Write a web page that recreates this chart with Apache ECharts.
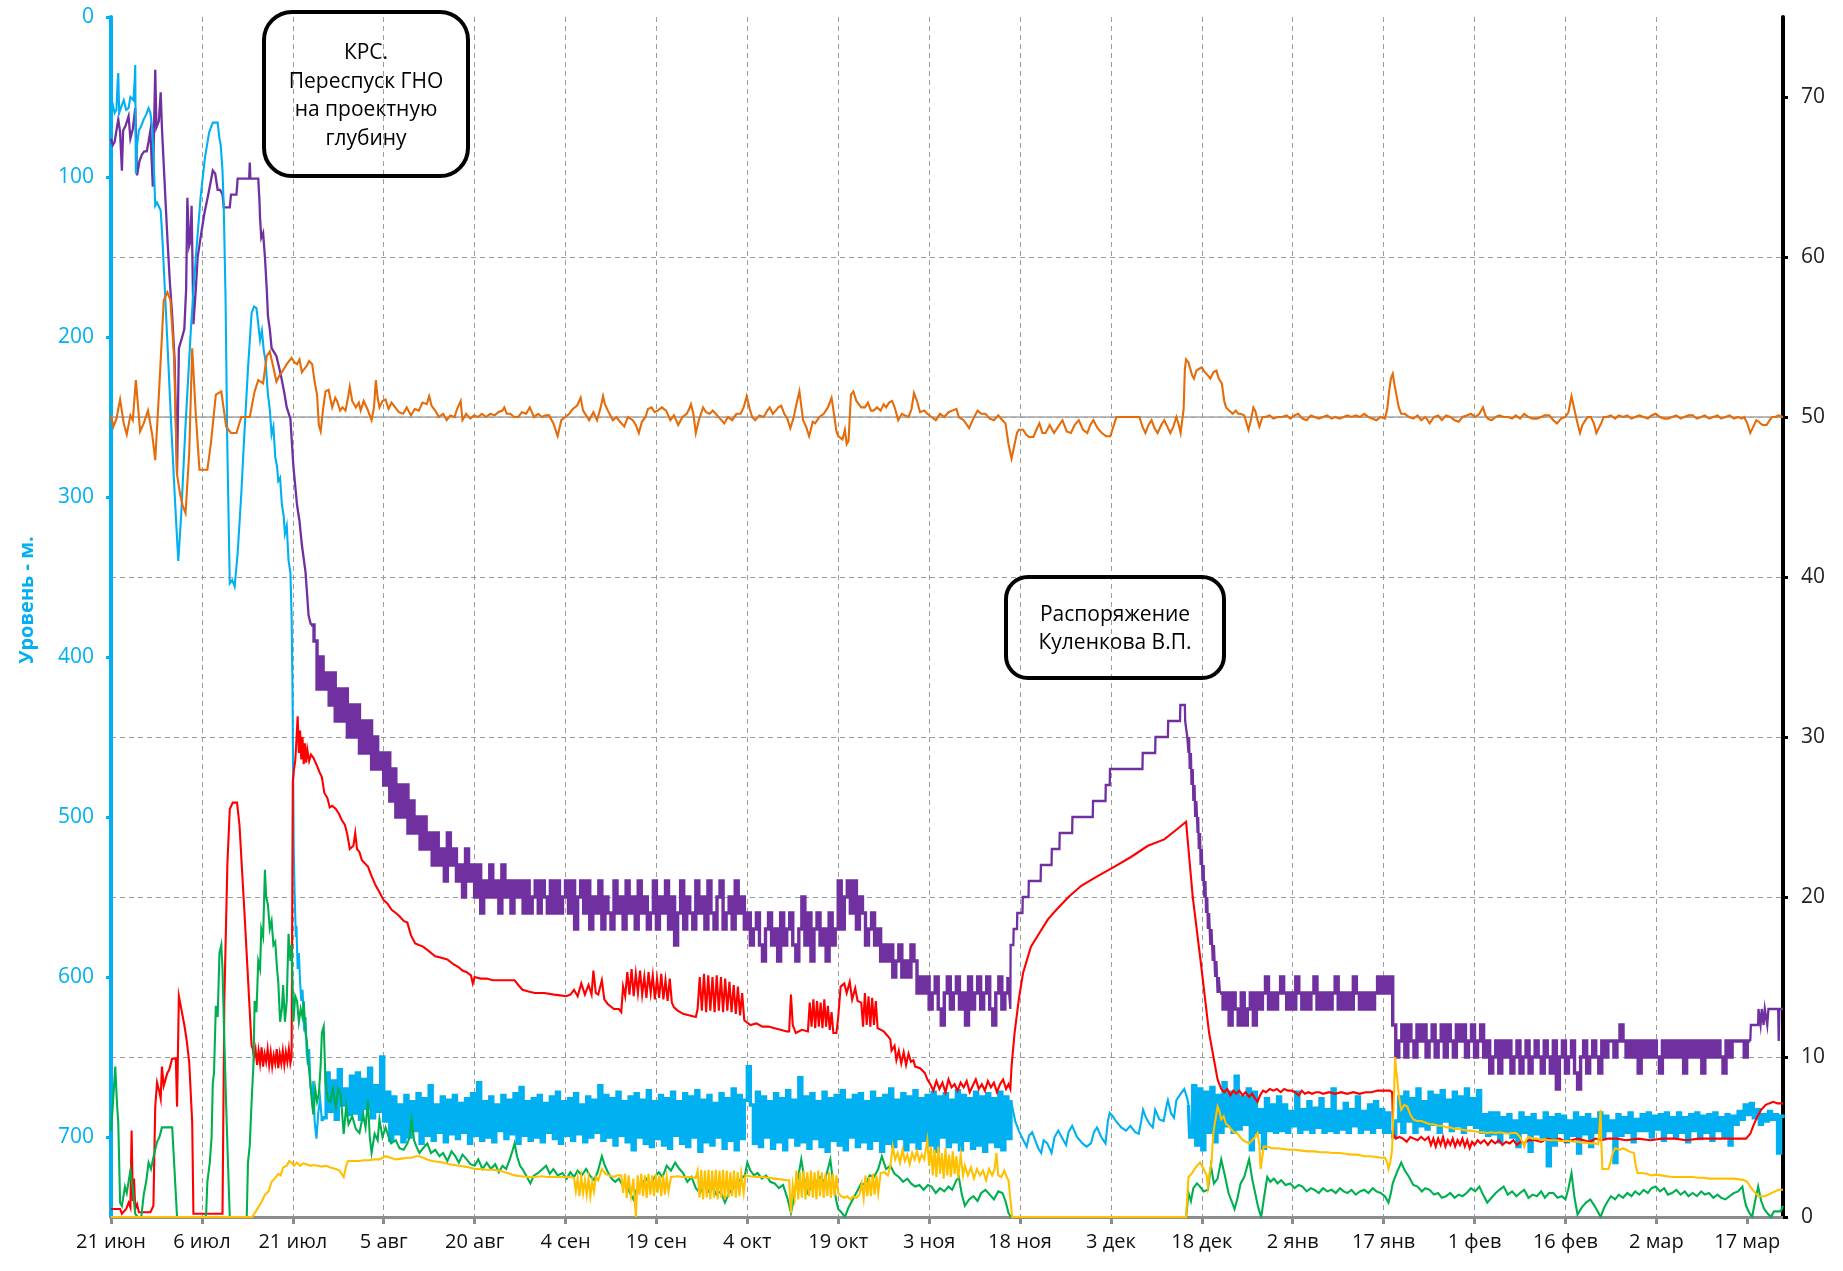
<!DOCTYPE html>
<html lang="ru">
<head>
<meta charset="utf-8">
<title>Уровень и параметры работы скважины</title>
<script src="https://cdn.jsdelivr.net/npm/echarts@6/dist/echarts.min.js"></script>
<style>
html,body{margin:0;padding:0;background:#fff;}
#chart{width:1843px;height:1271px;}
</style>
</head>
<body>
<div id="chart"></div>
<script>
// X is counted in days from 21 June; a date label every 15 days.
const dateLabels = ['21 июн','6 июл','21 июл','5 авг','20 авг','4 сен','19 сен','4 окт','19 окт','3 ноя',
  '18 ноя','3 дек','18 дек','2 янв','17 янв','1 фев','16 фев','2 мар','17 мар'];
const tickStep = 15;
const dayMax = 275.9;
const setpointHz = 50;

// Dynamic level, m (left axis, inverted). Flat lists are day,value pairs;
// runs are values sampled every `step` days starting at `from`.
const levelPts = [
  0,62, 0.3,55, 0.6,60, 0.9,58, 1.1,40, 1.2,35, 1.35,60, 1.7,56, 2.1,52, 2.5,58, 2.9,57, 3.2,50, 3.4,49, 3.7,52,
  3.9,40, 4.0,30, 4.1,98, 4.3,80, 4.6,71, 5.0,68, 5.4,64, 5.8,61, 6.2,57, 6.5,60, 6.8,69, 7.0,85, 7.3,118, 7.6,116,
  8.2,121, 8.5,140, 9.2,195, 10.0,260, 10.6,305, 11.1,340, 11.6,310, 12.3,255, 13.2,194, 14.0,150, 14.8,112, 15.5,88,
  16.2,72, 16.8,66, 17.6,66, 17.9,76, 18.1,80, 18.4,96, 18.6,118, 18.9,175, 19.2,270, 19.6,354, 20.0,352, 20.4,356,
  20.7,355, 20.9,335, 21.5,298, 22.0,261, 22.6,220, 23.2,185, 23.6,181, 24.0,182, 24.3,192, 24.6,202, 24.9,196,
  25.2,208, 25.5,215, 25.9,236, 26.2,245, 26.5,261, 26.8,256, 27.1,275, 27.4,281, 27.6,290, 27.9,288, 28.2,305,
  28.5,312, 28.7,323, 29.0,318, 29.3,340, 29.6,347, 29.8,374, 29.95,420, 30.05,468, 30.15,520, 30.3,548, 30.5,575,
  30.6,568, 30.8,595, 31.0,585, 31.2,603, 31.4,615, 31.6,608, 31.9,634, 32.1,625, 32.3,648, 32.5,655, 32.7,645,
  32.9,668, 33.2,676, 33.4,665, 33.6,690, 33.9,701, 34.2,685, 34.5,676, 34.8,690
];
const levelRunA = {from: 35, step: 0.5, v: [
  688,660,684,665,689,658,680,670,686,662, 685,660,689,664,682,657,688,668,684,650,
  690,672,702,675,698,680,703,674,700,678, 696,673,704,676,699,668,702,680,697,675,
  703,677,698,674,701,679,697,676,704,673, 699,666,702,678,700,675,703,680,696,674,
  701,677,698,673,704,669,699,678,702,676, 700,674,703,679,697,675,701,672,704,678,
  699,676,702,673,698,680,703,675,700,677, 697,668,702,674,700,676,705,672,699,678,
  703,675,708,673,700,677,704,671,706,678, 701,674,705,676,707,672,699,678,704,673,
  706,675,700,671,709,677,703,674,705,679, 700,673,707,676,702,670,708,674,701,677,
  656,680,704,672,706,675,700,678,707,673, 703,676,708,671,700,677,705,663,703,675,
  707,673,701,678,706,672,709,676,702,674, 705,671,708,677,700,674,706,673,703,678,
  707,672,702,676,709,674,704,670,706,677, 701,673,708,675,703,671,707,676,702,674,
  705,672,709,675,700,673,706,677,703,671, 708,674,702,676,707,672,705,675,709,673,
  703,676,706,672,708,675,701,677
]};
const levelSaw = [
  148.7,677, 149.2,690, 149.8,696, 150.4,701, 151.1,706, 151.5,699, 152.0,697, 152.5,702, 153.0,707, 153.5,710,
  153.9,702, 154.5,704, 155.2,710, 155.7,700, 156.3,696, 157.0,701, 157.6,705, 158.0,697, 158.6,693, 159.4,700,
  160.3,704, 161.0,706, 161.7,704, 162.2,697, 162.7,694, 163.4,700, 164.1,704, 164.5,690, 164.8,685, 165.3,687,
  165.8,690, 166.7,694, 167.5,696, 168.2,693, 169.0,697, 169.6,698, 170.0,690, 170.3,683, 170.8,688, 171.4,692,
  171.9,694, 172.3,683, 173.0,689, 173.7,690, 174.2,680, 174.4,677, 174.9,685, 175.4,688, 175.8,677, 176.5,673,
  177.1,670, 177.6,676, 177.8,680
];
const levelRunB = {from: 178, step: 0.5, v: [
  700,668,705,670,708,672,697,669,703,674, 697,666,693,672,697,662,695,675,692,670,
  708,672,697,683,707,676,696,680,697,675, 696,680,697,684,693,672,697,683,695,678,
  697,682,694,676,697,683,696,670,697,684, 695,679,697,683,693,675,697,684,695,680,
  697,678,694,683,697,685,697,700,690,675, 697,672,690,676,697,670,693,678,695,672,
  692,674,697,671,690,677,696,672,693,675, 697,670,692,676,694,671,697,686,699,685,
  698,685,703,688,697,686,700,690,706,685, 697,688,709,686,698,690,700,685,718,688,
  705,686,697,687,703,690,699,685,710,688, 698,686,706,689,697,685,701,687,696,690,
  716,686,699,688,697,685,703,689,696,686, 696,685,700,687,695,686,702,685,697,688,
  700,685,697,688,703,686,696,685,701,687, 697,686,702,685,696,688,700,686,705,687,
  692,684,689,680,686,679,688,683,692,686, 690,684,689,686,710,687
]};
const levelTail = [275.9,686];

// Purple trace (right axis)
const purplePts = [
  0,67.4, 0.3,67.0, 0.6,67.2, 0.9,67.1, 1.2,68.6, 1.5,67.8, 1.8,65.4, 2.0,67.9, 2.4,68.2, 2.9,68.8, 3.2,67.4,
  3.6,68.0, 4.0,69.3, 4.3,65.1, 4.7,66.0, 5.1,66.4, 5.5,66.6, 5.9,66.6, 6.2,67.2, 6.5,67.9, 6.9,64.4, 7.1,68.0,
  7.3,71.7, 7.5,68.1, 7.9,68.5, 8.2,70.3, 8.4,68.1, 8.8,65.0, 9.3,61.2, 9.7,58.5, 10.1,56.3, 10.5,53.5, 10.9,46.5,
  11.2,54.3, 11.6,54.8, 12.1,55.5, 12.4,58.0, 12.6,63.7, 12.9,60.7, 13.1,61.0, 13.3,63.2, 13.6,55.8, 14.0,58.0,
  14.3,60.0, 14.9,61.5, 15.4,62.7, 16.1,64.0, 16.8,65.4, 17.2,65.2, 17.6,64.2, 18.0,64.2, 18.4,63.9, 18.6,63.1,
  19.6,63.1, 19.8,63.9, 20.7,63.9, 20.9,64.9, 22.8,64.9, 22.9,65.9, 23.0,64.9, 24.3,64.9, 24.5,63.5, 24.6,62.4,
  24.8,61.2, 25.1,61.5, 25.4,60.0, 25.7,58.0, 25.9,56.3, 26.2,55.5, 26.5,54.3, 27.3,53.8, 27.8,53.0, 28.2,52.3,
  28.6,51.5, 29.0,50.6, 29.6,49.9, 30.1,46.9, 30.7,44.5, 31.1,43.5, 31.5,42.0, 32.1,40.3, 32.6,37.6, 33.0,37.0
];
const purpleRunA = {from: 33.5, step: 0.5, v: [
  36,33,35,33,34,32,34,31,33,31, 33,30,32,30,32,29,31,29,31,28, 30,28,29,27,29,26,28,25,27,25,
  27,24,26,24,25,23,25,23,24,22, 24,22,23,21,24,22,23,21,22,20, 23,21,22,20,22,19,21,20,22,20,
  21,19,22,20,21,19,21,20,21,19, 21,19,20,21,19,21,20,19,21,19, 21,19,20,21,19,21,18,20,21,19,
  21,18,20,19,21,18,20,19,18,21, 19,20,18,21,19,20,18,21,19,20, 18,19,21,18,20,19,21,18,20,17,
  19,21,18,20,19,18,21,19,20,18, 21,19,18,20,21,18,19,20,18,21, 19,20,18,19,17,18,19,17,16,18,
  19,17,18,16,19,17,18,19,17,16, 18,20,17,19,16,18,19,17,18,16, 19,17,18,21,18,20,21,19,21,18,
  20,19,17,18,19,17,18,16,17,16, 17,15,16,17,15,16,15,17,16,14, 15,14,15,13,14,15,13,12,14,15,
  13,14,15,13,14,12,15,13,14,15, 13,14,15,13,12,14,15,13,14,15
]};
const purpleStairs = [
  148.4,13, 148.45,17, 148.9,17, 148.95,18, 149.5,18, 149.55,19, 150.4,19, 150.45,20, 151.4,20, 151.45,21,
  153.4,21, 153.45,22, 155.2,22, 155.25,23, 156.5,23, 156.55,24, 158.6,24, 158.65,25, 162.0,25, 162.05,26,
  164.1,26, 164.15,27, 164.8,27, 164.85,28, 170.2,28, 170.25,29, 172.3,29, 172.35,30, 174.4,30, 174.45,31,
  176.4,31, 176.45,32, 177.2,32, 177.25,31, 177.5,31, 177.6,30, 177.8,29, 177.9,30, 178.0,28, 178.2,29,
  178.3,27, 178.5,28, 178.6,26, 178.8,27, 178.9,25, 179.1,26, 179.3,24, 179.4,25, 179.5,23, 179.7,24,
  179.8,22, 180.0,23, 180.1,21, 180.3,22, 180.4,20, 180.6,21, 180.7,19, 180.9,20, 181.0,18, 181.2,19,
  181.4,17, 181.6,18, 181.8,16, 182.0,17, 182.2,15, 182.4,16, 182.6,14, 182.8,15, 183.0,14
];
const purpleRunB = {from: 183.5, step: 0.5, v: [
  13,14,12,14,13,12,14,12,13,14, 12,14,13,14,15,13,14,13,14,15, 14,13,14,13,15,14,13,14,13,14,
  15,13,14,13,14,13,14,15,13,14, 13,14,13,15,14,13,14,13,14,13, 14,15,14,15,14,15,
  12,10,11,12,10,12,11,10,12,11, 12,10,11,12,10,11,12,10,12,11, 10,12,11,12,10,11,12,10,11,12,
  10,11,9,10,11,9,11,10,11,9, 10,11,9,10,11,9,10,11,10,9, 11,10,9,11,8,10,11,9,10,11,
  9,8,10,11,9,10,11,10,9,11, 10,11,11,10,11,12,11,10,11,10, 11,9,11,10,11,10,11,10,9,11,
  10,11,10,11,10,11,9,11,10,11, 10,11,9,11,10,11,10,11,10,9, 11,10,11,11,11,11,10,11,11
]};
const purpleTail = [
  270.6,12, 271.8,12, 271.85,13, 272.2,12, 272.4,13, 272.7,12, 272.9,13, 273.3,12, 273.5,13, 275.1,13,
  275.2,11, 275.3,13, 275.9,13
];

// Red trace (right axis)
const redPts = [
  0,0.5, 1.5,0.5, 1.8,0.2, 2.5,0.5, 2.9,0.9, 3.2,0.6, 3.4,5.4, 3.6,1.0, 3.8,2.4, 4.0,0.5, 4.3,0.8, 4.6,0.3,
  5.5,0.3, 6.5,0.3, 7.0,0.7, 7.3,6.9, 7.6,8.4, 8.0,7.8, 8.2,7.4, 8.4,9.4, 8.7,8.2, 9.0,8.6, 9.3,9.0, 9.6,9.2,
  10.1,9.9, 10.7,9.9, 10.9,6.9, 11.2,13.8, 11.6,13.0, 12.1,12.0, 12.5,11.0, 12.9,9.7, 13.4,5.9, 13.6,0.2,
  18.4,0.2, 18.7,13.5, 19.2,22.0, 19.6,25.5, 20.1,25.9, 20.8,25.9, 21.2,24.5, 22.1,18.5, 23.2,10.7, 23.4,10.5,
  23.6,10.0, 23.85,10.5, 24.1,9.5, 24.35,10.4, 24.6,9.6, 24.85,10.6, 25.1,9.4, 25.35,10.2, 25.6,9.7, 25.85,10.5,
  26.1,9.5, 26.35,10.3, 26.6,9.4, 26.85,10.1, 27.1,9.6, 27.35,10.5, 27.6,9.3, 27.85,10.2, 28.1,9.6, 28.35,10.4,
  28.6,9.5, 28.85,10.3, 29.1,9.7, 29.35,10.5, 29.6,9.6, 29.8,10.0,
  30.0,27.2, 30.2,28.0, 30.4,28.5, 30.6,29.8, 30.8,31.3, 31.0,29.0, 31.2,30.4, 31.4,28.6, 31.6,30.0, 31.8,28.3,
  32.0,29.6, 32.2,28.4, 32.4,29.2, 32.7,28.5, 33.0,28.9, 33.4,28.7, 34.0,28.2, 34.4,27.8, 34.8,27.5, 35.2,26.5,
  35.7,26.2, 36.1,25.6, 36.5,25.7, 37.1,25.5, 37.6,25.2, 38.1,24.8, 38.6,24.5, 39.0,23.9, 39.4,23.0, 40.0,23.2,
  40.3,24.0, 40.6,23.0, 41.0,22.8, 41.4,22.3, 42.4,21.9, 43.0,21.3, 43.7,20.7, 44.3,20.3, 45.0,19.8, 45.6,19.6,
  46.3,19.2, 47.0,19.0, 47.6,18.8, 48.3,18.5, 48.9,18.4, 49.5,17.6, 50.2,17.1, 50.8,17.0, 51.5,16.9, 52.5,16.6,
  53.5,16.3, 54.5,16.2, 55.5,16.1, 56.5,15.8, 57.4,15.6, 58.0,15.4, 58.7,15.3, 59.4,15.1, 59.7,14.6, 60.0,15.0,
  61.0,14.9, 62.0,14.9, 63.0,14.8, 64.0,14.8, 65.3,14.8, 66.6,14.8, 67.2,14.5, 67.9,14.2, 68.9,14.1, 69.9,14.0,
  71.5,14.0, 73.1,13.9, 74.1,13.85, 75.1,13.8, 75.8,13.9, 76.4,14.2, 77.0,13.8, 77.6,14.6, 78.2,13.9, 78.8,14.5,
  79.3,13.9, 79.6,15.4, 80.0,14.0, 80.4,13.9, 81.0,14.8, 81.4,13.6, 82.0,13.3, 83.0,13.0, 83.8,13.0, 84.2,12.8,
  84.5,14.4, 84.85,13.8, 85.2,15.3, 85.55,13.9, 85.9,15.5, 86.25,13.8, 86.6,15.2, 86.95,14.0, 87.3,15.4,
  87.65,13.9, 88.0,15.0, 88.35,13.7, 88.7,15.3, 89.05,14.0, 89.4,15.1, 89.75,13.6, 90.1,14.9, 90.45,13.7,
  90.8,15.2, 91.15,13.6, 91.5,14.8, 91.85,13.5, 92.2,14.9, 92.55,13.4, 92.9,13.1, 93.5,12.9, 94.4,12.7,
  95.5,12.6, 96.5,12.5, 96.8,13.0, 97.15,15.0, 97.5,12.9, 97.85,15.2, 98.2,12.8, 98.55,15.1, 98.9,12.9,
  99.25,15.0, 99.6,12.8, 99.95,15.1, 100.3,12.9, 100.65,15.0, 101.0,12.8, 101.35,14.9, 101.7,12.9, 102.05,14.7,
  102.4,12.8, 102.75,14.5, 103.1,12.7, 103.45,14.4, 103.8,12.6, 104.15,14.0, 104.5,12.3, 104.8,12.2, 105.5,12.0,
  106.5,12.1, 107.5,11.9, 108.5,11.9, 109.5,11.8, 110.5,11.7, 111.5,11.6, 111.9,11.6, 112.2,13.9, 112.5,12.0,
  113.0,11.5, 114.0,11.7, 115.0,11.6, 115.3,13.4, 115.6,11.9, 115.9,13.6, 116.2,11.8, 116.5,13.5, 116.8,11.9,
  117.1,13.4, 117.4,11.8, 117.7,13.6, 118.0,11.9, 118.3,13.2, 118.6,11.7, 118.9,12.8, 119.2,11.5, 119.7,11.5,
  120.0,12.5, 120.4,14.4, 121.0,14.6, 121.4,14.0, 121.9,14.7, 122.3,13.6, 122.8,14.3, 123.2,13.5, 123.8,13.4,
  124.1,11.9, 124.4,14.0, 124.7,12.0, 125.0,13.8, 125.3,11.9, 125.6,13.7, 125.9,12.0, 126.2,13.5, 126.5,11.8,
  127.5,11.6, 128.2,11.3, 128.6,11.1, 128.8,10.4, 129.3,10.7, 129.6,9.8, 130.0,10.4, 130.4,9.6, 130.8,10.3,
  131.2,9.5, 131.6,10.2, 132.0,9.7, 132.4,9.8, 132.7,9.4, 133.5,9.3, 134.3,9.0, 134.7,8.6, 135.2,8.3, 135.7,7.9,
  136.2,8.5, 136.7,8.0, 137.2,8.4, 137.7,7.8, 138.2,8.6, 138.7,8.1, 139.2,8.3, 139.7,7.9, 140.2,8.4, 140.7,8.1,
  141.2,8.5, 141.7,7.8, 142.2,8.2, 142.7,8.6, 143.2,8.0, 143.7,8.3, 144.2,7.9, 144.7,8.5, 145.2,8.1, 145.7,8.4,
  146.2,7.8, 146.7,8.3, 147.2,8.6, 147.7,8.0, 148.1,8.3, 148.4,8.0, 148.6,9.4, 149.1,11.5, 149.8,13.6,
  150.5,15.25, 151.8,16.9, 153.2,17.75, 154.6,18.6, 156.0,19.2, 158.0,20.0, 160.1,20.7, 162.8,21.3, 165.6,21.9,
  168.3,22.5, 171.1,23.2, 173.8,23.6, 175.8,24.2, 177.4,24.7, 178.5,20.0, 179.8,16.0, 181.2,11.5, 182.6,8.6,
  183.2,8.0, 183.7,7.8, 184.2,8.0, 184.7,7.6, 185.2,7.9, 185.7,7.7, 186.2,7.9, 186.7,7.6, 187.2,7.8, 187.8,7.5,
  188.3,7.7, 188.8,7.4, 189.2,7.2, 189.6,7.6, 190.1,7.9, 190.6,7.8, 191.2,8.0, 191.8,7.9, 192.4,8.0, 193.0,7.8,
  193.6,8.0, 194.2,7.9, 194.8,7.9, 195.4,7.8, 196.0,7.6, 196.5,7.9, 197.0,7.7, 197.6,7.8, 198.2,7.7, 198.8,7.8,
  199.4,7.8, 200.0,7.7, 201,7.8, 202,7.7, 203,7.8, 204,7.7, 205,7.8, 206,7.7, 207,7.8, 208,7.8, 209,7.9,
  210,7.9, 211,7.9, 211.4,7.8, 211.6,5.2, 212,4.9, 212.6,5.0, 213.2,4.9, 213.8,4.7, 214.4,5.0, 215,4.9,
  215.6,4.8, 216.2,5.0, 216.8,4.8, 217.4,5.0, 217.8,4.5, 218.2,4.9, 218.6,4.4, 219.0,4.9, 219.4,4.5, 219.8,5.0,
  220.2,4.4, 220.6,4.8, 221.0,4.5, 221.4,4.9, 221.8,4.4, 222.2,4.8, 222.6,4.5, 223,4.9, 223.4,4.4, 223.8,4.8,
  224.2,4.3, 224.6,4.7, 225,4.5, 225.5,4.8, 226,4.6, 226.6,4.8, 227.2,4.5, 227.8,4.8, 228.4,4.6, 229,4.8,
  229.6,4.5, 230.2,4.7, 230.8,4.6, 231.4,4.8, 232,4.5, 232.6,4.7, 233.2,4.6, 233.9,4.8, 235,4.8, 236,4.7,
  237,4.9, 238,4.8, 239,4.9, 240,4.7, 241,4.8, 242,4.9, 243,4.8, 244,4.7, 245,4.9, 246,4.8, 247,4.9,
  248.5,4.9, 250,4.8, 252,4.9, 254,4.8, 256,4.9, 258,4.9, 260,4.8, 262,4.9, 264,4.9, 266,4.9, 268,4.9,
  269.8,4.9, 270.5,5.2, 271.0,5.7, 271.7,6.3, 272.3,6.7, 273.0,7.0, 273.6,7.1, 274.3,7.2, 275.0,7.1, 275.9,7.1
];

// Green trace (right axis)
const greenPts = [
  0,5.4, 0.2,6.4, 0.7,9.4, 1.0,7.0, 1.2,5.9, 1.5,0.9, 1.8,0.7, 2.3,1.9, 2.6,1.5, 3.2,2.9, 3.6,1.7, 4.0,0.2,
  4.4,0, 5.0,0, 5.4,1.4, 5.8,2.2, 6.2,3.4, 6.6,3.0, 7.1,3.9, 7.6,4.7, 8.0,5.0, 8.4,5.6, 10.1,5.6, 10.9,0,
  15.6,0, 15.7,0.2, 15.9,2.2, 16.3,3.4, 16.6,5.0, 16.8,8.4, 17.0,9.0, 17.3,13.2, 17.6,12.5, 17.9,16.5, 18.2,17.0,
  18.4,15.5, 18.7,11.0, 19.0,7.0, 19.3,3.4, 19.6,0, 22.4,0, 22.6,3.4, 22.9,4.5, 23.2,7.2, 23.5,9.5, 23.7,13.5,
  24.0,12.8, 24.3,16.0, 24.6,15.5, 24.8,18.0, 25.1,17.5, 25.4,21.7, 25.6,20.0, 25.9,19.5, 26.2,18.0, 26.5,18.5,
  26.8,17.0, 27.1,17.2, 27.4,15.5, 27.6,14.7, 27.9,12.2, 28.2,13.0, 28.4,14.5, 28.7,12.2, 29.0,13.5, 29.3,17.7,
  29.6,16.0, 29.8,17.0, 30.1,12.2, 30.4,13.8, 30.7,13.5, 31.0,12.2, 31.3,13.0, 31.6,12.5, 31.8,13.5, 32.1,11.5,
  32.3,11.0, 32.6,9.5, 32.9,8.4, 33.2,7.0, 33.4,6.4, 33.7,8.0, 34.0,7.2, 34.3,7.7, 34.6,9.5, 34.8,11.5, 35.1,11.9,
  35.4,8.4, 35.8,7.3, 36.2,7.2, 36.6,8.0, 37.1,6.9, 37.5,8.0, 37.9,7.7, 38.4,5.2, 38.8,6.9, 39.2,5.8, 39.8,6.3,
  40.4,5.5, 41.0,5.25, 41.6,6.4, 42.0,5.6, 42.4,7.3, 42.7,5.0, 43.0,4.0, 43.5,5.2, 44.0,4.8, 44.3,6.1, 44.8,5.0,
  45.3,5.6, 45.6,5.25, 46.2,4.6, 47.0,4.8, 47.6,4.3, 48.3,4.2, 48.9,4.6, 49.3,5.0, 49.6,6.1, 50.0,4.8, 50.4,4.4,
  50.9,4.0, 51.5,4.3, 52.2,4.6, 52.8,4.0, 53.5,4.2, 54.2,3.8, 54.8,4.0, 55.5,3.5, 56.2,4.1, 56.8,3.8, 57.4,3.4,
  58.0,3.9, 58.7,3.6, 59.3,3.3, 60.0,3.2, 60.6,3.6, 61.3,3.0, 62.0,3.4, 62.7,3.0, 63.4,3.3, 64.0,2.8, 64.6,3.2,
  65.2,3.0, 65.8,3.6, 66.3,4.2, 66.6,4.6, 67.0,3.8, 67.5,3.2, 67.9,3.0, 68.5,2.6, 69.2,2.1, 69.8,2.6, 70.5,2.75,
  71.2,3.0, 71.8,3.2, 72.4,2.7, 73.0,3.0, 73.7,2.6, 74.5,2.75, 75.2,2.4, 75.8,2.8, 76.4,2.5, 77.0,2.9, 77.7,2.6,
  78.4,3.0, 79.0,2.6, 79.7,2.3, 80.3,2.8, 81.0,3.8, 81.5,3.2, 82.0,2.8, 82.6,2.4, 83.2,2.2, 83.8,2.4, 84.4,2.0,
  84.9,2.1, 85.5,1.6, 86.2,1.1, 86.8,1.8, 87.6,2.1, 88.3,2.4, 89.0,2.0, 89.7,2.5, 90.4,2.8, 91.0,2.5, 91.7,3.2,
  92.4,2.9, 93.1,3.4, 93.8,3.0, 94.4,2.75, 95.1,2.2, 95.8,2.5, 96.5,1.8, 97.2,1.5, 97.9,2.0, 98.6,1.6, 99.2,1.9,
  99.9,1.4, 100.6,1.6, 101.3,0.9, 102.0,1.5, 102.6,1.8, 103.3,2.1, 104.0,2.4, 104.6,2.6, 105.0,3.4, 105.5,2.9,
  106.1,2.6, 106.7,2.75, 107.4,2.4, 108.1,2.6, 108.8,2.2, 109.5,2.1, 110.2,1.8, 110.9,2.0, 111.6,1.2, 112.2,0.25,
  112.6,1.0, 112.9,1.7, 113.4,2.5, 113.9,3.6, 114.4,2.4, 114.9,1.5, 115.6,1.9, 116.3,2.1, 117.0,2.5, 117.7,2.2,
  118.3,3.0, 118.7,3.6, 119.2,2.0, 119.7,1.0, 120.0,0.5, 120.5,0.3, 121.1,0, 121.7,0.6, 122.4,1.1, 123.1,1.6,
  123.8,2.1, 124.5,2.0, 125.2,2.6, 125.9,2.5, 126.6,3.0, 127.2,3.8, 127.9,3.0, 128.6,3.2, 129.3,2.7, 130.0,2.5,
  130.7,2.2, 131.4,2.4, 132.0,2.1, 132.7,1.9, 133.4,2.0, 134.1,1.7, 134.8,2.0, 135.4,1.9, 136.1,1.5, 136.8,1.8,
  137.5,1.6, 138.2,1.9, 138.8,1.7, 139.5,2.3, 139.9,2.5, 140.4,1.4, 140.9,0.7, 141.6,1.1, 142.3,1.3, 143.0,1.0,
  143.6,1.5, 144.3,1.7, 145.0,1.4, 145.7,1.1, 146.4,1.6, 147.1,1.5, 147.6,1.0, 148.1,0.25, 148.5,0, 177.4,0,
  177.8,1.5, 178.2,1.0, 178.6,1.8, 179.2,2.1, 179.7,1.9, 180.3,1.6, 181.0,1.7, 181.5,3.2, 182.0,2.1, 182.6,2.4,
  183.2,3.6, 183.4,3.5, 183.8,2.6, 184.4,1.5, 184.9,1.0, 185.4,0.5, 185.9,1.2, 186.4,2.1, 187.0,2.5, 187.5,3.2,
  187.8,3.6, 188.3,2.4, 188.8,1.5, 189.3,0.6, 189.8,0, 190.3,1.3, 190.8,2.5, 191.3,2.2, 191.9,2.4, 192.5,2.1,
  193.1,2.3, 193.8,2.0, 194.6,2.1, 195.3,1.8, 196.0,2.0, 196.6,1.9, 197.3,1.6, 198.0,1.8, 198.6,1.7, 199.3,1.5,
  200.0,1.8, 200.7,1.6, 201.4,1.7, 202.1,1.5, 202.8,1.8, 203.4,1.6, 204.0,1.5, 204.7,1.7, 205.4,1.4, 206.1,1.6,
  206.8,1.7, 207.5,1.5, 208.2,1.8, 208.8,1.6, 209.5,1.5, 210.2,1.3, 210.8,0.9, 211.2,1.5, 211.5,2.1, 212.2,2.8,
  212.9,3.4, 213.5,2.9, 214.2,2.5, 214.9,2.0, 215.6,1.9, 216.3,1.6, 216.9,1.8, 217.6,1.7, 218.3,1.4, 219.0,1.5,
  219.6,1.2, 220.3,1.3, 221.0,1.5, 221.7,1.2, 222.4,1.4, 223.0,1.3, 223.7,1.5, 224.4,1.8, 225.1,1.6, 225.8,1.9,
  226.4,1.4, 227.1,0.9, 227.8,1.2, 228.5,1.5, 229.1,1.7, 229.8,1.9, 230.5,1.4, 231.2,1.6, 231.9,1.3, 232.5,1.5,
  233.2,1.7, 233.9,1.2, 234.6,1.4, 235.3,1.3, 236.0,1.6, 236.6,1.2, 237.3,1.5, 238.0,1.5, 238.7,1.2, 239.4,1.3,
  240.0,1.1, 240.5,1.8, 241.0,2.75, 241.5,1.2, 242.0,0.15, 242.7,0.6, 243.4,0.9, 244.1,1.1, 244.8,0.7, 245.4,0.3,
  245.8,0, 246.4,0.6, 247.0,1.0, 247.5,1.3, 248.2,1.1, 248.8,1.4, 249.5,1.2, 250.2,1.5, 250.9,1.3, 251.5,1.6,
  252.2,1.4, 252.9,1.7, 253.6,1.5, 254.2,1.8, 254.9,1.9, 255.6,1.6, 256.3,1.8, 256.9,1.4, 257.6,1.5, 258.3,1.7,
  259.0,1.4, 259.7,1.6, 260.3,1.3, 261.0,1.5, 261.7,1.3, 262.4,1.6, 263.0,1.4, 263.7,1.5, 264.4,1.2, 265.1,1.4,
  265.7,1.2, 266.4,1.1, 267.1,1.3, 267.8,1.5, 268.5,1.6, 269.2,1.9, 269.5,1.2, 269.8,0.7, 270.3,0.3, 270.8,0,
  271.3,1.0, 271.8,1.9, 272.3,1.0, 272.8,0.5, 273.4,0.2, 273.9,0, 274.4,0.35, 275.0,0.35, 275.5,0.35, 275.9,0.7
];

// Yellow trace (right axis)
const yellowPts = [
  0,0, 23.3,0, 24.3,0.6, 24.8,0.9, 25.4,1.4, 26.0,1.6, 26.5,2.2, 27.0,2.4, 27.6,2.7, 28.0,2.6, 28.4,3.1, 29.0,3.2,
  29.4,3.5, 29.8,3.4, 30.2,3.2, 30.7,3.4, 31.2,3.2, 31.7,3.35, 32.3,3.3, 32.9,3.2, 33.5,3.25, 34.1,3.2, 34.8,3.15,
  35.5,3.2, 36.2,3.1, 37.1,3.0, 37.7,2.9, 38.4,2.5, 38.8,3.2, 39.1,3.5, 40.0,3.5, 41.0,3.5, 41.7,3.55, 42.6,3.55,
  43.4,3.6, 44.3,3.6, 45.3,3.8, 46.1,3.7, 47.0,3.6, 48.0,3.65, 49.0,3.7, 49.6,3.7, 50.3,3.8, 50.9,3.8, 51.5,3.7,
  52.2,3.6, 53.0,3.5, 53.9,3.45, 54.8,3.4, 55.8,3.3, 56.6,3.25, 57.4,3.2, 58.4,3.15, 59.2,3.1, 60.0,3.0, 61.0,3.0,
  62.0,2.95, 63.0,2.95, 64.0,2.9, 65.0,2.8, 65.8,2.7, 66.6,2.6, 67.6,2.55, 68.8,2.5, 69.9,2.5, 71.0,2.55, 72.1,2.5,
  73.1,2.5, 74.3,2.5, 75.8,2.5, 76.4,2.45, 76.7,1.6, 77.0,2.4, 77.3,1.3, 77.6,2.5, 77.9,1.5, 78.2,2.3, 78.5,1.4,
  78.8,2.4, 79.1,1.3, 79.4,2.2, 79.7,1.6, 80.0,2.5, 80.4,2.3, 81.0,3.0, 81.6,2.7, 82.2,2.6, 83.0,2.5, 83.6,2.6,
  84.2,2.6, 84.5,1.5, 84.8,2.7, 85.1,1.2, 85.4,2.6, 85.8,1.3, 86.2,2.4, 86.6,0, 86.9,2.6, 87.2,1.4, 87.5,2.7,
  87.8,1.3, 88.1,2.6, 88.4,1.2, 88.7,2.7, 89.0,1.4, 89.3,2.6, 89.6,1.3, 89.9,2.7, 90.2,1.5, 90.5,2.6, 90.8,1.3,
  91.1,2.6, 91.4,1.4, 91.7,2.5, 92.0,1.6, 92.4,2.5, 92.7,2.5, 93.5,2.55, 94.5,2.5, 95.5,2.5, 96.5,2.45, 96.8,2.9,
  97.1,1.2, 97.4,2.95, 97.7,1.1, 98.0,2.9, 98.3,1.2, 98.6,2.95, 98.9,1.1, 99.2,2.9, 99.5,1.2, 99.8,2.95, 100.1,1.1,
  100.4,2.9, 100.7,1.2, 101.0,2.95, 101.3,1.1, 101.6,2.9, 101.9,1.2, 102.2,2.8, 102.5,1.3, 102.8,2.9, 103.1,1.2,
  103.4,2.8, 103.7,1.3, 104.0,2.7, 104.4,1.5, 104.7,2.6, 105.5,2.55, 106.5,2.5, 107.5,2.5, 108.5,2.45, 109.5,2.4,
  110.5,2.35, 111.5,2.3, 111.9,2.3, 112.2,0.25, 112.5,2.0, 112.8,1.2, 113.1,2.9, 113.4,1.1, 113.7,2.8, 114.0,1.2,
  114.3,2.9, 114.6,1.1, 114.9,2.8, 115.2,1.3, 115.5,2.9, 115.8,1.2, 116.1,2.8, 116.4,1.1, 116.7,2.9, 117.0,1.3,
  117.3,2.8, 117.6,1.2, 117.9,2.7, 118.2,1.3, 118.5,2.8, 118.8,1.2, 119.1,2.7, 119.4,1.3, 119.7,2.6, 120.0,1.5,
  120.5,1.3, 121.0,1.2, 121.5,1.3, 122.0,1.1, 122.5,1.3, 123.0,1.2, 123.5,1.4, 123.9,2.1, 124.2,1.2, 124.5,2.6,
  124.8,1.3, 125.1,2.5, 125.4,1.3, 125.7,2.7, 126.0,1.4, 126.3,2.6, 126.6,1.5, 127.0,2.75, 127.6,2.8, 128.2,2.6,
  128.6,3.2, 129.0,4.4, 129.4,3.6, 129.8,4.0, 130.2,3.4, 130.6,4.2, 131.0,3.5, 131.4,3.9, 131.8,3.3, 132.2,4.0,
  132.6,3.6, 133.0,4.1, 133.4,3.5, 133.8,3.9, 134.2,3.6, 134.7,4.8, 135.0,3.2, 135.3,4.4, 135.6,2.6, 135.9,4.2,
  136.2,2.5, 136.5,4.4, 136.8,2.7, 137.1,4.0, 137.4,2.4, 137.7,4.3, 138.0,2.6, 138.3,3.9, 138.6,2.5, 138.9,4.1,
  139.2,2.7, 139.5,3.8, 139.8,2.4, 140.2,3.9, 140.6,2.6, 140.9,3.2, 141.4,2.6, 141.9,3.1, 142.4,2.4, 142.9,3.0,
  143.4,2.6, 143.9,2.9, 144.4,2.3, 144.9,3.0, 145.4,2.6, 145.8,3.0, 146.1,4.0, 146.4,2.6, 146.9,2.5, 147.4,2.9,
  147.8,2.5, 148.1,2.3, 148.7,0, 177.4,0, 177.8,2.5, 178.3,2.7, 178.8,3.0, 179.2,3.2, 179.7,3.4, 180.3,3.0,
  180.8,2.6, 181.0,1.9, 181.3,2.8, 181.6,3.4, 181.9,5.25, 182.2,6.0, 182.6,6.9, 182.9,6.6, 183.2,6.1, 183.6,6.3,
  184.0,5.8, 184.4,5.7, 184.8,5.5, 185.3,5.3, 185.8,5.25, 186.3,5.0, 186.8,4.8, 187.3,4.7, 187.8,4.6, 188.3,4.8,
  188.8,5.0, 189.2,5.25, 189.5,4.5, 189.7,3.0, 190.0,3.8, 190.2,4.4, 190.8,4.4, 191.5,4.3, 192.5,4.3, 193.5,4.25,
  194.5,4.2, 195.3,4.2, 196.5,4.15, 197.5,4.1, 198.6,4.1, 199.6,4.05, 200.6,4.05, 201.6,4.0, 202.7,4.0, 203.7,3.95,
  204.7,3.9, 205.7,3.9, 206.8,3.8, 207.8,3.8, 208.8,3.75, 209.6,3.7, 210.2,3.7, 210.6,3.4, 210.8,3.0, 211.1,3.4,
  211.4,4.2, 211.7,7.5, 211.9,10.0, 212.1,9.0, 212.2,8.8, 212.5,7.6, 212.9,6.7, 213.4,7.0, 213.9,6.9, 214.4,6.4,
  214.9,6.1, 215.5,6.0, 216.2,6.0, 216.9,5.9, 217.6,5.8, 218.3,5.8, 219.0,5.7, 219.7,5.7, 220.4,5.6, 221.0,5.6,
  221.7,5.5, 222.4,5.5, 223.1,5.45, 223.7,5.4, 224.4,5.4, 225.1,5.35, 225.8,5.3, 226.4,5.3, 227.1,5.25, 227.8,5.3,
  228.5,5.25, 229.1,5.3, 229.8,5.25, 230.5,5.2, 231.2,5.25, 231.9,5.25, 232.5,5.0, 233.0,4.6, 233.2,4.4, 233.5,4.8,
  233.9,5.0, 234.6,4.9, 235.3,4.9, 235.9,4.8, 236.6,4.85, 237.3,4.8, 238.0,4.8, 238.6,4.8, 239.3,4.75, 240.0,4.75,
  240.7,4.75, 241.4,4.7, 242.0,4.7, 242.7,4.65, 243.4,4.65, 244.1,4.6, 244.8,4.6, 245.4,4.55, 245.6,5.5, 245.8,6.7,
  245.9,5.0, 246.1,3.0, 246.6,3.0, 247.1,3.0, 247.5,3.5, 247.8,4.0, 248.2,4.3, 248.5,4.4, 249.0,4.2, 249.5,4.3,
  250.0,4.2, 250.5,4.1, 250.8,4.1, 251.3,4.0, 251.6,3.2, 251.9,2.75, 252.6,2.75, 253.4,2.7, 254.2,2.6, 255.0,2.65,
  255.8,2.6, 256.7,2.55, 257.6,2.5, 258.5,2.5, 259.4,2.5, 260.2,2.5, 261.0,2.5, 261.9,2.45, 262.8,2.45, 263.6,2.4,
  264.4,2.4, 265.3,2.4, 266.2,2.4, 267.0,2.4, 267.8,2.4, 268.7,2.35, 269.5,2.3, 270.0,2.2, 270.5,1.9, 271.1,1.6,
  271.9,1.3, 272.4,1.3, 272.9,1.3, 273.5,1.4, 274.0,1.5, 274.6,1.6, 275.2,1.7, 275.9,1.7
];

// Orange trace, around the 50 setpoint (right axis)
const freqPts = [
  0,50.1, 0.4,49.4, 0.9,49.9, 1.5,51.1, 2.1,49.6, 2.6,48.9, 3.2,50.1, 3.6,49.8, 4.1,52.3, 4.5,50.5, 4.8,49.1,
  5.4,49.6, 6.1,50.4, 6.8,48.9, 7.3,47.3, 7.9,51.4, 8.4,55, 8.7,57.3, 9.3,57.8, 9.8,57.3, 10.4,53.8, 10.9,46.4,
  11.4,45.2, 11.8,44.5, 12.3,44.0, 12.9,47.7, 13.4,54.3, 14.0,50.1, 14.6,46.7, 15.9,46.7, 16.5,48.4, 17.3,51.4,
  18.2,51.6, 19.0,49.4, 19.8,49.0, 20.7,49.0, 21.5,50.0, 22.9,50.0, 23.7,51.6, 24.3,52.3, 25.1,52.1, 25.7,53.8,
  26.2,54.1, 26.8,53.1, 27.3,52.2, 27.8,52.6, 28.2,52.8, 29.0,53.3, 29.8,53.7, 30.3,53.4, 30.7,53.3, 31.1,53.6,
  31.5,52.8, 32.3,53.2, 32.7,53.5, 33.2,53.3, 33.6,52.2, 34.0,51.4, 34.3,49.5, 34.6,49.1, 35.0,50.5, 35.4,51.6,
  35.9,51.7, 36.5,50.6, 37.0,51.2, 37.3,51.0, 37.8,50.4, 38.2,50.6, 38.7,50.4, 39.1,51.2, 39.4,51.9, 39.8,51.0,
  40.4,50.6, 40.9,50.9, 41.2,50.4, 41.7,51.0, 42.3,50.5, 43.0,49.8, 43.4,50.6, 43.7,52.3, 44.0,51.2, 44.3,50.6,
  44.8,51.0, 45.3,51.1, 45.8,50.5, 46.3,50.9, 46.9,50.6, 47.5,50.3, 48.2,50.2, 48.8,50.6, 49.5,50.1, 50.1,50.5,
  50.8,50.4, 51.4,50.9, 52.1,50.8, 52.5,51.3, 52.9,50.7, 53.5,50.4, 54.1,50.0, 54.8,50.2, 55.4,49.8, 56.0,50.1,
  56.7,50.0, 57.1,50.5, 57.7,51.0, 58.0,49.8, 58.6,50.2, 59.3,49.9, 59.9,50.1, 60.6,50.0, 61.2,50.2, 61.9,50.0,
  62.6,50.2, 63.3,50.1, 63.9,50.3, 64.6,50.4, 64.9,50.6, 65.3,50.2, 65.9,50.2, 66.5,50.0, 67.2,50.0, 67.8,50.3,
  68.5,50.2, 69.1,50.6, 69.8,50.0, 70.5,50.2, 71.1,50.0, 71.7,50.1, 72.3,50.1, 73.0,49.6, 73.7,48.8, 74.3,49.8,
  75.0,50.0, 75.6,50.2, 76.2,50.5, 76.9,50.7, 77.5,51.2, 77.9,50.4, 78.4,50.1, 78.9,49.8, 79.6,50.3, 80.2,49.8,
  80.8,50.6, 81.2,51.3, 81.5,50.8, 82.0,50.4, 82.8,49.8, 83.4,50.0, 84.0,49.7, 84.7,49.4, 85.3,50.0, 86.1,49.8,
  86.6,49.5, 87.1,49.0, 87.6,49.7, 88.2,50.0, 88.6,50.5, 89.2,50.6, 89.7,50.3, 90.2,50.4, 90.9,50.6, 91.6,50.4,
  92.3,49.8, 92.9,50.1, 93.6,49.5, 94.3,50.0, 95.0,50.2, 95.4,50.5, 95.7,50.8, 96.1,50.2, 96.5,49.0, 97.0,49.8,
  97.7,50.6, 98.2,50.3, 98.8,50.2, 99.3,50.4, 99.8,50.2, 100.5,49.9, 101.2,49.6, 101.8,50.0, 102.5,49.8, 103.2,50.2,
  103.9,50.2, 104.4,50.6, 104.9,51.3, 105.4,50.5, 105.8,50.0, 106.3,49.8, 107.0,50.1, 107.7,50.0, 108.3,50.4,
  108.7,50.6, 109.2,50.2, 109.7,50.4, 110.1,50.6, 110.6,50.7, 111.1,50.2, 111.6,49.9, 112.1,49.3, 112.6,49.9,
  113.1,50.8, 113.6,51.6, 114.2,49.8, 114.7,49.4, 115.2,48.8, 115.8,49.7, 116.2,49.6, 116.9,50.0, 117.6,50.2,
  118.3,50.6, 118.9,51.2, 119.3,50.2, 119.7,49.1, 120.0,48.8, 120.7,48.6, 121.1,49.2, 121.4,48.3, 121.7,48.5,
  122.1,51.4, 122.5,51.6, 123.0,51.0, 123.8,50.6, 124.4,50.6, 124.9,50.9, 125.4,50.4, 125.8,50.4, 126.4,50.6,
  127.0,50.4, 127.5,50.8, 127.9,50.6, 128.4,50.9, 128.9,51.0, 129.4,50.5, 129.9,49.8, 130.5,50.2, 131.0,50.1,
  131.6,50.0, 132.1,50.5, 132.5,51.5, 133.0,51.0, 133.5,50.3, 134.2,50.4, 134.7,50.2, 135.4,50.0, 136.1,49.8,
  136.8,50.2, 137.5,50.0, 138.2,50.3, 138.8,50.4, 139.5,50.5, 139.9,50.0, 140.7,49.8, 141.6,49.3, 142.3,49.9,
  143.0,50.4, 143.6,50.2, 144.3,50.2, 145.0,49.9, 145.7,49.8, 146.4,50.1, 147.1,49.8, 147.6,49.6, 148.1,48.3,
  148.6,47.4, 149.1,48.3, 149.5,49.0, 149.8,49.2, 150.5,49.2, 151.0,48.9, 151.5,48.75, 152.2,48.75, 152.7,49.2,
  153.2,49.6, 153.7,49.0, 154.2,49.0, 154.9,49.5, 155.6,49.0, 156.3,49.4, 157.0,49.8, 157.7,49.1, 158.4,49.0,
  159.0,49.5, 159.7,49.8, 160.4,49.2, 161.1,49.0, 161.6,49.5, 162.1,49.8, 162.8,49.3, 163.5,49.0, 164.2,48.8,
  164.9,48.8, 165.4,49.4, 165.9,50.0, 169.7,50.0, 170.2,49.4, 170.7,49.0, 171.2,49.5, 171.7,49.8, 172.2,49.3,
  172.7,49.0, 173.3,49.5, 173.8,49.8, 174.3,49.4, 174.8,49.0, 175.3,49.4, 175.8,50.0, 176.2,49.5, 176.5,49.0,
  177.0,50.5, 177.2,53.0, 177.4,53.6, 177.8,53.4, 178.1,53.5, 178.4,52.6, 178.7,52.4, 179.1,52.9, 179.5,53.0,
  180.0,53.1, 180.5,52.8, 181.0,52.6, 181.4,52.4, 181.9,52.8, 182.4,52.9, 182.8,52.4, 183.3,52.1, 183.7,51.0,
  184.0,50.6, 184.5,50.4, 185.1,50.2, 185.6,50.4, 186.0,50.2, 186.4,50.2, 187.0,50.1, 187.7,49.2, 188.1,49.8,
  188.5,50.6, 188.8,50.4, 189.2,49.8, 189.5,49.4, 190.0,50.0, 190.5,50.0, 191.2,50.1, 191.8,49.9, 192.5,50.0,
  193.2,50.0, 194.0,50.1, 194.6,49.9, 195.3,50.1, 195.9,50.2, 196.6,49.9, 197.3,49.8, 198.0,50.1, 198.6,50.0,
  199.3,49.9, 200.0,50.0, 200.7,50.1, 201.4,49.9, 202.0,50.0, 202.7,49.9, 203.4,50.0, 204.0,50.1, 204.7,50.0,
  205.4,50.1, 206.1,50.0, 206.8,50.2, 207.5,50.0, 208.1,49.9, 208.8,49.8, 209.5,50.0, 210.2,49.9, 210.6,50.5,
  210.9,51.6, 211.2,52.4, 211.5,52.7, 211.8,52.0, 212.1,51.4, 212.5,50.6, 212.9,50.2, 213.5,50.2, 214.2,50.0,
  214.9,49.9, 215.6,50.1, 216.2,49.8, 216.9,50.0, 217.6,49.6, 218.3,50.0, 219.0,50.1, 219.6,49.8, 220.3,50.1,
  221.0,50.0, 221.7,49.8, 222.4,49.7, 223.0,50.0, 223.7,50.1, 224.4,50.2, 225.1,50.0, 225.8,50.2, 226.1,50.4,
  226.4,50.6, 226.8,50.1, 227.2,49.9, 227.8,49.8, 228.5,50.0, 229.1,50.1, 229.8,50.0, 230.5,50.0, 231.2,49.9,
  231.8,50.1, 232.5,49.9, 233.2,50.2, 233.9,50.0, 234.6,49.9, 235.3,49.9, 236.0,50.0, 236.6,50.1, 237.3,50.1,
  238.0,49.8, 238.6,49.6, 239.3,49.9, 240.0,50.0, 240.5,50.3, 241.0,51.3, 241.3,51.2, 241.7,50.1, 242.0,49.6,
  242.4,49.0, 242.8,49.5, 243.3,49.8, 243.7,50.0, 244.2,50.0, 244.7,49.6, 245.1,49.0, 245.4,49.0, 245.9,49.6,
  246.3,50.0, 246.8,50.0, 247.5,50.1, 248.2,49.9, 248.8,50.1, 249.5,50.0, 250.2,50.1, 250.9,49.9, 251.5,50.0,
  252.2,50.1, 252.9,50.0, 253.6,49.9, 254.2,50.1, 254.9,50.2, 255.6,50.0, 256.3,49.9, 256.9,49.9, 257.6,50.0,
  258.3,50.1, 259.0,49.9, 259.6,50.0, 260.3,50.1, 261.0,50.1, 261.7,49.9, 262.4,50.0, 263.0,50.1, 263.7,49.9,
  264.4,50.0, 265.1,50.1, 265.7,49.9, 266.4,50.0, 267.1,50.1, 267.8,49.9, 268.5,50.0, 269.1,49.9, 269.5,50.0,
  270.0,49.6, 270.5,49.0, 271.0,49.4, 271.5,49.8, 271.9,49.7, 272.5,49.5, 273.2,49.5, 273.7,49.8, 274.1,50.0,
  274.6,50.0, 275.2,50.1, 275.9,50.0
];

// Turns flat day,value lists and regular runs into [day, value] points.
function buildSeries(parts) {
  const out = [];
  parts.forEach(p => {
    if (Array.isArray(p)) {
      for (let i = 0; i + 1 < p.length; i += 2) out.push([p[i], p[i + 1]]);
    } else {
      p.v.forEach((v, i) => out.push([+(p.from + i * p.step).toFixed(3), v]));
    }
  });
  return out;
}
// Starts a piece at the last point of the previous piece so the trace stays joined.
function joined(prev, cur) {
  return prev.length ? [prev[prev.length - 1]].concat(cur) : cur;
}

const FONT = "'Open Sans', 'Noto Sans', sans-serif";
const GRID_LINE = { type: [5, 4], color: '#9c9c9c', width: 1 };

const xTicks = dateLabels.map((_, i) => i * tickStep);
const rightTicks = [0, 10, 20, 30, 40, 50, 60, 70];
const leftTicks = [0, 100, 200, 300, 400, 500, 600, 700];

function line(name, data, color, yAxisIndex, width, z, step) {
  return {
    name, type: 'line', data, yAxisIndex, z, step: step || false,
    showSymbol: false, symbol: 'none', smooth: false, sampling: null,
    lineStyle: { color, width, join: 'miter' },
    emphasis: { disabled: true },
    animation: false
  };
}

// Quiet stretches are drawn as plain lines; rapidly switching stretches
// are drawn as stepped lines with a heavier stroke so they read as a band.
const BAND_WIDTH = 3.4;
const levelEarly = buildSeries([levelPts]);
const levelA = joined(levelEarly, buildSeries([levelRunA]));
const levelMid = joined(levelA, buildSeries([levelSaw]));
const levelB = joined(levelMid, buildSeries([levelRunB, levelTail]));

const purpleEarly = buildSeries([purplePts]);
const purpleA = joined(purpleEarly, buildSeries([purpleRunA]));
const purpleMid = joined(purpleA, buildSeries([purpleStairs]));
const purpleB = joined(purpleMid, buildSeries([purpleRunB]));
const purpleEnd = joined(purpleB, buildSeries([purpleTail]));

const LEVEL_BLUE = '#00B0F0';
const PURPLE = '#7030A0';

const chart = echarts.init(document.getElementById('chart'), null, { renderer: 'canvas' });
chart.setOption({
  backgroundColor: '#ffffff',
  animation: false,
  grid: { left: 111, right: 60, top: 17, bottom: 54, containLabel: false },
  xAxis: {
    type: 'value', min: 0, max: dayMax, interval: tickStep,
    axisLine: { show: true, onZero: false, lineStyle: { color: '#8c8c8c', width: 3 } },
    axisTick: { show: true, length: 7, customValues: xTicks, lineStyle: { color: '#8c8c8c', width: 3 } },
    axisLabel: {
      color: '#111', fontSize: 20, fontFamily: FONT, margin: 15, customValues: xTicks,
      formatter: v => {
        const k = Math.round(v / tickStep);
        return Math.abs(v - k * tickStep) < 1e-6 && dateLabels[k] ? dateLabels[k] : '';
      }
    },
    splitLine: { show: true, showMaxLine: false, lineStyle: GRID_LINE }
  },
  yAxis: [
    {
      type: 'value', position: 'left', inverse: true, min: 0, max: 750, interval: 100,
      axisLine: { show: true, lineStyle: { color: LEVEL_BLUE, width: 4 } },
      axisTick: { show: true, length: 5, customValues: leftTicks, lineStyle: { color: LEVEL_BLUE, width: 3 } },
      axisLabel: {
        color: LEVEL_BLUE, fontSize: 21, fontFamily: FONT, margin: 17, customValues: leftTicks,
        formatter: v => (v % 100 === 0 && v <= 700 ? String(v) : '')
      },
      splitLine: { show: false }
    },
    {
      type: 'value', position: 'right', min: 0, max: 75, interval: 10,
      axisLine: { show: true, lineStyle: { color: '#000', width: 4 } },
      axisTick: { show: true, length: 5, customValues: rightTicks, lineStyle: { color: '#000', width: 3 } },
      axisLabel: {
        color: '#222', fontSize: 21, fontFamily: FONT, margin: 18, customValues: rightTicks,
        formatter: v => (v % 10 === 0 && v <= 70 ? String(v) : '')
      },
      splitLine: { show: true, showMinLine: false, showMaxLine: false, lineStyle: GRID_LINE }
    }
  ],
  series: [
    line('Уставка', [[0, setpointHz], [dayMax, setpointHz]], '#a6a6a6', 1, 1.6, 1),
    line('Ток', purpleEarly, PURPLE, 1, 2.3, 2),
    line('Ток', purpleA, PURPLE, 1, BAND_WIDTH, 2, 'end'),
    line('Ток', purpleMid, PURPLE, 1, 2.3, 2),
    line('Ток', purpleB, PURPLE, 1, BAND_WIDTH, 2, 'end'),
    line('Ток', purpleEnd, PURPLE, 1, 2.3, 2),
    line('Уровень', levelEarly, LEVEL_BLUE, 0, 2.1, 3),
    line('Уровень', levelA, LEVEL_BLUE, 0, BAND_WIDTH, 3, 'end'),
    line('Уровень', levelMid, LEVEL_BLUE, 0, 2.1, 3),
    line('Уровень', levelB, LEVEL_BLUE, 0, BAND_WIDTH, 3, 'end'),
    line('Загрузка', buildSeries([redPts]), '#FF0000', 1, 2.1, 4),
    line('Давление', buildSeries([greenPts]), '#00B050', 1, 2.1, 5),
    line('Дебит', buildSeries([yellowPts]), '#FFC000', 1, 2.1, 6),
    line('Частота', buildSeries([freqPts]), '#E46C0A', 1, 2.1, 7)
  ],
  graphic: [
    {
      type: 'text', x: 27, y: 600, rotation: Math.PI / 2, z: 20,
      style: { text: 'Уровень - м.', fill: LEVEL_BLUE, font: "bold 20px 'Open Sans', 'Noto Sans', sans-serif",
               align: 'center', verticalAlign: 'middle' }
    },
    {
      type: 'rect', z: 20,
      shape: { x: 264, y: 12, width: 204, height: 164, r: 28 },
      style: { fill: 'none', stroke: '#000', lineWidth: 4 }
    },
    {
      type: 'text', x: 366, y: 96, z: 21,
      style: { text: 'КРС.\nПереспуск ГНО\nна проектную\nглубину', fill: '#000',
               font: "21px 'Open Sans', 'Noto Sans', sans-serif", lineHeight: 28.5,
               align: 'center', verticalAlign: 'middle' }
    },
    {
      type: 'rect', z: 20,
      shape: { x: 1006, y: 577, width: 218, height: 101, r: 22 },
      style: { fill: 'none', stroke: '#000', lineWidth: 4 }
    },
    {
      type: 'text', x: 1115, y: 629, z: 21,
      style: { text: 'Распоряжение\nКуленкова В.П.', fill: '#000',
               font: "21px 'Open Sans', 'Noto Sans', sans-serif", lineHeight: 28.5,
               align: 'center', verticalAlign: 'middle' }
    }
  ]
});
</script>
</body>
</html>
